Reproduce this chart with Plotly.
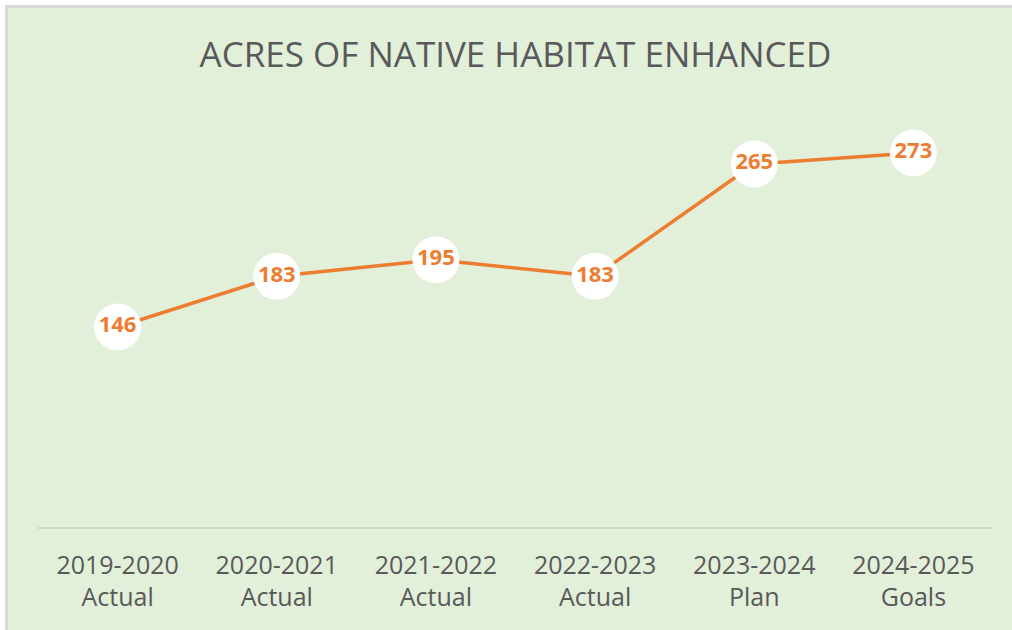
import plotly.graph_objects as go

categories = ["2019-2020<br>Actual", "2020-2021<br>Actual", "2021-2022<br>Actual",
              "2022-2023<br>Actual", "2023-2024<br>Plan", "2024-2025<br>Goals"]
acres = [146, 183, 195, 183, 265, 273]
title_text = "ACRES OF NATIVE HABITAT ENHANCED"

W, H = 1012, 630
ML, MR, MT, MB = 38, 19, 116, 103
GREEN = "#E2EFD9"
ORANGE = "#ED7D31"
GRAY = "#595959"

fig = go.Figure()
fig.add_trace(go.Scatter(
    x=categories, y=acres,
    mode="lines+markers+text",
    line=dict(color=ORANGE, width=3.5),
    marker=dict(size=47, color="white", line=dict(width=0)),
    text=[str(v) for v in acres],
    textposition="middle center",
    textfont=dict(family="Open Sans", size=22, color=ORANGE, weight="bold"),
    cliponaxis=False,
    hoverinfo="skip",
))

pw = W - ML - MR
ph = H - MT - MB
def px_x(p):
    return (p - ML) / pw
def px_y(p):
    return (H - MB - p) / ph

# white outer margin + gray frame (top/left)
fig.add_shape(type="rect", xref="paper", yref="paper",
              x0=px_x(0), x1=px_x(W), y0=px_y(0), y1=px_y(5),
              fillcolor="white", line=dict(width=0), layer="below")
fig.add_shape(type="rect", xref="paper", yref="paper",
              x0=px_x(0), x1=px_x(5), y0=px_y(0), y1=px_y(H),
              fillcolor="white", line=dict(width=0), layer="below")
fig.add_shape(type="rect", xref="paper", yref="paper",
              x0=px_x(5), x1=px_x(W), y0=px_y(5), y1=px_y(8),
              fillcolor="#D9D9D9", line=dict(width=0), layer="below")
fig.add_shape(type="rect", xref="paper", yref="paper",
              x0=px_x(5), x1=px_x(8), y0=px_y(5), y1=px_y(H),
              fillcolor="#D9D9D9", line=dict(width=0), layer="below")

fig.update_layout(
    width=W, height=H,
    margin=dict(l=ML, r=MR, t=MT, b=MB),
    paper_bgcolor=GREEN, plot_bgcolor=GREEN,
    showlegend=False,
    title=dict(text=title_text, x=0.5, xref="paper", xanchor="center",
               y=1 - 55 / H, yanchor="middle",
               font=dict(family="Open Sans", size=35, color=GRAY)),
    xaxis=dict(type="category", range=[-0.5, 5.5], showgrid=False,
               showline=True, linecolor="#D0D8CB", linewidth=1.5,
               ticks="", zeroline=False, fixedrange=True,
               ticklabelstandoff=15,
               tickfont=dict(family="Open Sans", size=25, color=GRAY)),
    yaxis=dict(range=[0, 300], showgrid=False, showticklabels=False,
               zeroline=False, showline=False, ticks="", fixedrange=True),
)

fig.write_html("out.html", config={"displayModeBar": False},
               post_script="document.body.style.margin='0';document.body.style.padding='0';")
